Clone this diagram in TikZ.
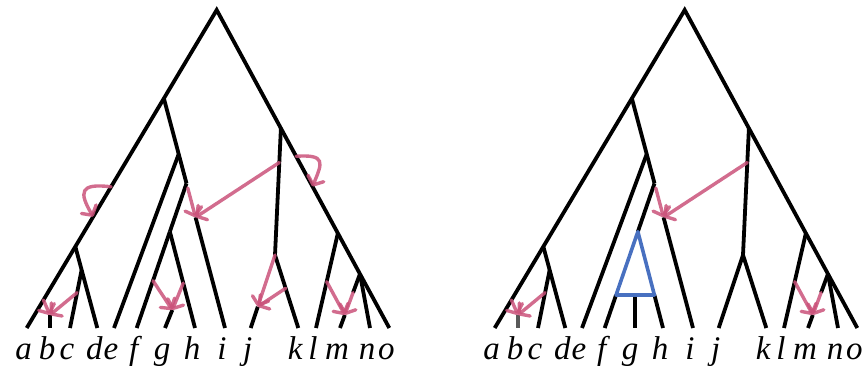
\documentclass[tikz,border=0pt]{standalone}
\usepackage{fontspec}
\setmainfont{Liberation Serif}
\usetikzlibrary{arrows.meta,calc}

\definecolor{hgt}{RGB}{202,82,122}
\definecolor{clade}{RGB}{72,112,192}

\begin{document}
\begin{tikzpicture}[
    x=1pt, y=-1pt,
    >={Straight Barb[length=7pt,width=17pt,round]},
    branch/.style={line width=3.8pt,black},
    transfer/.style={->,hgt,line width=3.4pt,opacity=0.85,line cap=round},
    leaf/.style={anchor=base,inner sep=0pt,font={\fontsize{33}{33}\selectfont\itshape}},
]
\useasboundingbox (0,0) rectangle (864,365);

% both trees share the same skeleton
\foreach \t/\dx in {L/0,R/468}{
  \begin{scope}[xshift=\dx]
    \coordinate (\t-root) at (216.7,10);
    \foreach \name/\x in {a/26.7,b/50,c/70,d/97.3,e/114,f/136.7,g/165,h/195,
                          i/225,j/250.7,k/298.3,l/316,m/340,n/370,o/389.3}{
      \coordinate (\t-\name) at (\x,328);
      \node[leaf] (\t-\name-lbl) at (\x-3,359) {\name};
    }
    \coordinate (\t-jk) at (275,255);
    \coordinate (\t-btop) at (50,315);
  \end{scope}

  % inner vertices
  \coordinate (\t-la) at ($(\t-root)!0.278!(\t-a)$);
  \coordinate (\t-ab) at ($(\t-root)!0.744!(\t-a)$);
  \coordinate (\t-ra) at ($(\t-root)!0.372!(\t-o)$);
  \coordinate (\t-ln) at ($(\t-root)!0.702!(\t-o)$);
  \coordinate (\t-no) at ($(\t-root)!0.83!(\t-o)$);
  \coordinate (\t-lb) at ($(\t-la)!0.2425!(\t-i)$);
  \coordinate (\t-lc) at ($(\t-la)!0.37!(\t-i)$);
  \coordinate (\t-ld) at ($(\t-lc)!0.334!(\t-f)$);
  \coordinate (\t-cd) at ($(\t-ab)!0.287!(\t-d)$);

  % transfer ends
  \coordinate (\t-asrc) at ($(\t-root)!0.912!(\t-a)$);
  \coordinate (\t-csrc) at ($(\t-cd)!0.39!(\t-c)$);
  \coordinate (\t-isrc) at ($(\t-la)!0.39!(\t-i)$);
  \coordinate (\t-itip) at ($(\t-la)!0.518!(\t-i)$);
  \coordinate (\t-jsrc) at ($(\t-ra)!0.27!(\t-jk)$);
  \coordinate (\t-lsrc) at ($(\t-ln)!0.511!(\t-l)$);
  \coordinate (\t-msrc) at ($(\t-no)!0.346!(\t-m)$);
  \coordinate (\t-mtip) at ($(\t-no)!0.759!(\t-m)$);

  \draw[branch] (\t-a) -- (\t-root) -- (\t-o);
  \draw[branch] (\t-la) -- (\t-lc);
  \draw[branch] (\t-itip) -- (\t-i);
  \draw[branch] (\t-lb) -- (\t-e);
  \draw[branch] (\t-lc) -- (\t-ld);
  \draw[branch] (\t-ab) -- (\t-d);
  \draw[branch] (\t-cd) -- (\t-c);
  \draw[branch] (\t-ra) -- (\t-jk);
  \draw[branch] (\t-ln) -- (\t-l);
  \draw[branch] (\t-no) -- (\t-n);
  \draw[branch] (\t-no) -- (\t-msrc);
  \draw[branch] (\t-mtip) -- (\t-m);
}

% left tree
\coordinate (L-fsrc) at ($(L-lc)!0.673!(L-f)$);
\coordinate (L-gsrc) at ($(L-ld)!0.533!(L-h)$);
\coordinate (L-gtip) at ($(L-gsrc)!0.6!(L-g)$);
\coordinate (L-jtip) at ($(L-jk)!0.708!(L-j)$);
\coordinate (L-ksrc) at ($(L-jk)!0.456!(L-k)$);
\coordinate (L-loop1) at ($(L-root)!0.556!(L-a)$);
\coordinate (L-loop2) at ($(L-root)!0.65!(L-a)$);
\coordinate (L-loop3) at ($(L-root)!0.46!(L-o)$);
\coordinate (L-loop4) at ($(L-root)!0.555!(L-o)$);

\draw[branch] (L-ld) -- (L-f);
\draw[branch] (L-ld) -- (L-h);
\draw[branch] (L-gtip) -- (L-g);
\draw[branch] (L-jtip) -- (L-j);
\draw[branch] (L-jk) -- (L-k);
\draw[branch] (L-btop) -- (L-b);

\draw[transfer] (L-asrc) -- (L-btop);
\draw[transfer] (L-csrc) -- (L-btop);
\draw[transfer] (L-fsrc) -- (L-gtip);
\draw[transfer] (L-gsrc) -- (L-gtip);
\draw[transfer] (L-isrc) -- (L-itip);
\draw[transfer] (L-jsrc) -- (L-itip);
\draw[transfer] (L-jk) -- (L-jtip);
\draw[transfer] (L-ksrc) -- (L-jtip);
\draw[transfer] (L-lsrc) -- (L-mtip);
\draw[transfer] (L-msrc) -- (L-mtip);
\draw[transfer] (L-loop1) .. controls +(-32,-4) and +(-14,-24) .. (L-loop2);
\draw[transfer] (L-loop3) .. controls +(30,-2) and +(10,-24) .. (L-loop4);

% right tree
\coordinate (R-tl) at ($(R-lc)!0.772!(R-f)$);
\coordinate (R-tr) at ($(R-ld)!0.657!(R-h)$);
\coordinate (R-gtop) at ($(R-tl)!0.5!(R-tr)$);
\coordinate (R-gbot) at (R-gtop |- R-g);

\draw[branch] (R-tl) -- (R-f);
\draw[branch] (R-tr) -- (R-h);
\draw[branch] (R-gtop) -- (R-gbot);
\draw[branch] (R-jk) -- (R-j);
\draw[branch] (R-jk) -- (R-k);
\draw[branch,gray!70!black] (R-btop) -- (R-b);
\draw[clade,line width=3.6pt,line join=round] (R-ld) -- (R-tl) -- (R-tr) -- cycle;

\draw[transfer] (R-asrc) -- (R-btop);
\draw[transfer] (R-csrc) -- (R-btop);
\draw[transfer] (R-isrc) -- (R-itip);
\draw[transfer] (R-jsrc) -- (R-itip);
\draw[transfer] (R-lsrc) -- (R-mtip);
\draw[transfer] (R-msrc) -- (R-mtip);
\end{tikzpicture}
\end{document}
